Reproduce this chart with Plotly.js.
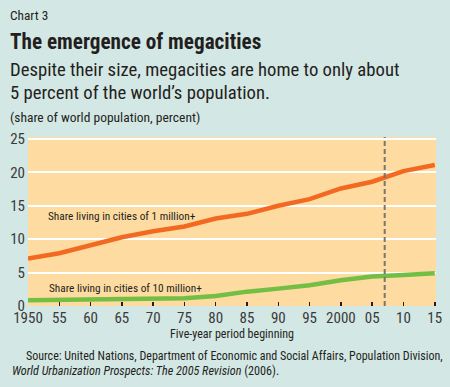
<!DOCTYPE html>
<html><head><meta charset="utf-8">
<script src="https://cdn.plot.ly/plotly-3.0.1.min.js"></script>
<style>html,body{margin:0;padding:0;background:#D3E7E5;}#c{width:450px;height:387px;}</style>
</head><body><div id="c"></div>
<script>
const years = [1950,1955,1960,1965,1970,1975,1980,1985,1990,1995,2000,2005,2010,2015];
const tickLabels = ['1950','55','60','65','70','75','80','85','90','95','2000','05','10','15'];
const million1 = [7.1,7.9,9.1,10.3,11.2,11.9,13.1,13.8,15.0,16.0,17.6,18.6,20.2,21.1];
const million10 = [0.85,0.9,0.95,1.0,1.0,1.15,1.5,2.15,2.6,3.1,3.85,4.4,4.65,4.9];
const projectionStart = 2007;

const F = '"Roboto Condensed", "Liberation Sans", sans-serif';
const TXT = '#231F20';
const L = 28, T = 137, W = 408, H = 169;
const px = x => (x - L) / W;
const py = y => (T + H - y) / H;

function note(text, x, y, size, opts) {
  return Object.assign({text: text, xref: 'paper', yref: 'paper', x: px(x), y: py(y),
    xanchor: 'left', yanchor: 'middle', showarrow: false,
    font: {family: F, size: size, color: TXT}}, opts || {});
}

const data = [
  {x: years, y: million1, mode: 'lines', line: {color: '#F26A21', width: 4.5}, hoverinfo: 'skip'},
  {x: years, y: million10, mode: 'lines', line: {color: '#72BF44', width: 4.5}, hoverinfo: 'skip'}
];

const layout = {
  width: 450, height: 387,
  margin: {l: L, r: 450 - L - W, t: T, b: 387 - T - H},
  paper_bgcolor: '#D3E7E5', plot_bgcolor: '#FEDBA1',
  showlegend: false,
  font: {family: F, color: TXT},
  xaxis: {range: [1950, 2015.2], tickvals: years, ticktext: tickLabels,
    ticks: 'inside', ticklen: 4, tickwidth: 1.5, tickcolor: '#231F20',
    showgrid: false, zeroline: false, showline: false,
    tickfont: {family: F, size: 15, color: '#3a3a3a'}, ticklabelstandoff: 1,
    title: {text: 'Five-year period beginning', font: {family: F, size: 12, color: TXT}, standoff: 3}},
  yaxis: {range: [0, 25.3], tickvals: [0,5,10,15,20,25], ticks: '',
    showgrid: true, gridcolor: '#FFFFFF', gridwidth: 2, zeroline: false, showline: false,
    tickfont: {family: F, size: 15, color: '#3a3a3a'}, ticklabelstandoff: 2},
  shapes: [{type: 'line', xref: 'x', yref: 'paper', x0: projectionStart, x1: projectionStart, y0: 0, y1: 1,
    line: {color: '#7A7570', width: 2, dash: '5px,3px'}}],
  annotations: [
    note('Chart 3', 8, 16, 13.3),
    note('<b>The emergence of megacities</b>', 8, 41, 21.2),
    note('Despite their size, megacities are home to only about', 8, 70, 18.7),
    note('5 percent of the world’s population.', 8, 93, 18.7),
    note('(share of world population, percent)', 8, 117, 13.5),
    note('Share living in cities of 1 million+', 46, 216, 11.3),
    note('Share living in cities of 10 million+', 47, 288, 11.3),
    note('Source: United Nations, Department of Economic and Social Affairs, Population Division,', 24, 356, 12),
    note('<i>World Urbanization Prospects: The 2005 Revision</i> (2006).', 10, 371, 12.2)
  ]
};
Plotly.newPlot('c', data, layout, {staticPlot: true, displayModeBar: false});
</script></body></html>
